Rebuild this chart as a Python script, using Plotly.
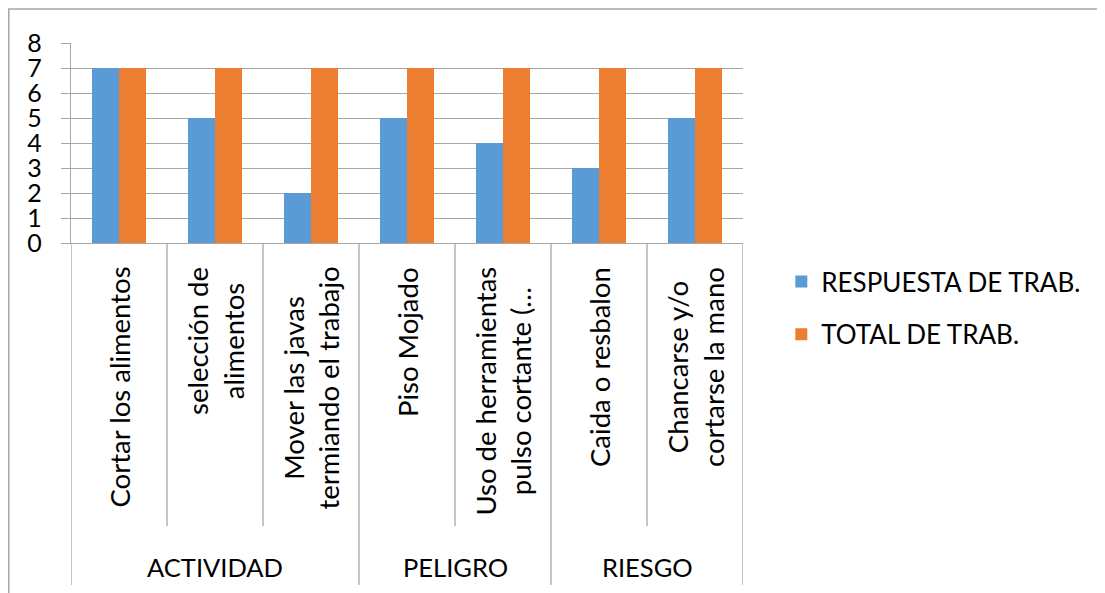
import plotly.graph_objects as go

groups = ["ACTIVIDAD", "ACTIVIDAD", "ACTIVIDAD", "PELIGRO", "PELIGRO", "RIESGO", "RIESGO"]
categories = [
    "Cortar los alimentos",
    "selección de<br>alimentos",
    "Mover las javas<br>termiando el trabajo",
    "Piso Mojado",
    "Uso de herramientas<br>pulso cortante (…",
    "Caida o resbalon",
    "Chancarse y/o<br>cortarse la mano",
]
respuesta = [7, 5, 2, 5, 4, 3, 5]
total = [7, 7, 7, 7, 7, 7, 7]
series_names = ["RESPUESTA DE TRAB.", "TOTAL DE TRAB."]
colors = ["#5B9BD5", "#ED7D31"]

FONT = "Lato"
GRAY = "#a6a6a6"
idx = list(range(len(categories)))

W, H = 1097, 585
L, T, PW, PH = 63, 35, 672, 200

fig = go.Figure()
for i, (name, vals) in enumerate(zip(series_names, [respuesta, total])):
    fig.add_trace(go.Bar(x=idx, y=vals, name=name, marker_color=colors[i],
                         marker_line_width=0, legendgroup=name))

shapes = []
annotations = []
# category labels and dividers
for i, cat in enumerate(categories):
    annotations.append(dict(x=i, y=-0.11, xref="x", yref="paper", text=cat,
                            textangle=-90, showarrow=False, yanchor="top",
                            xanchor="center", align="center",
                            font=dict(family=FONT, size=27.5, color="black")))
boundaries = [0]
for i in range(1, len(groups)):
    if groups[i] != groups[i - 1]:
        boundaries.append(i)
boundaries.append(len(groups))
for i in range(len(categories) + 1):
    long = i in boundaries
    shapes.append(dict(type="line", xref="x", yref="paper", x0=i - 0.5, x1=i - 0.5,
                       y0=0, y1=-1.71 if long else -1.415,
                       line=dict(color=GRAY, width=1.3)))
for a, b in zip(boundaries[:-1], boundaries[1:]):
    annotations.append(dict(x=(a + b - 1) / 2, y=-1.62, xref="x", yref="paper",
                            text=groups[a], showarrow=False, yanchor="middle",
                            font=dict(family=FONT, size=25.5, color="black")))
# outer chart border (only top and left edges are visible in the frame)
shapes.append(dict(type="rect", xref="paper", yref="paper",
                   x0=(0.8 - L) / PW, x1=2.0, y0=-3.0, y1=(T - 1) / PH + 1,
                   line=dict(color=GRAY, width=1.5)))

fig.update_layout(
    width=W, height=H,
    margin=dict(l=L, r=W - L - PW, t=T, b=H - T - PH, autoexpand=False),
    paper_bgcolor="white", plot_bgcolor="white",
    barmode="group", bargap=0.4375, bargroupgap=0,
    font=dict(family=FONT, color="black"),
    xaxis=dict(range=[-0.5, len(categories) - 0.5], showticklabels=False,
               showgrid=False, zeroline=False, showline=True, linecolor=GRAY,
               linewidth=1.3, fixedrange=True),
    yaxis=dict(range=[0, 8], dtick=1, showgrid=True, gridcolor=GRAY, gridwidth=1.3,
               ticks="outside", ticklen=9, tickcolor=GRAY, tickwidth=1.3,
               showline=True, linecolor=GRAY, linewidth=1.3, zeroline=False,
               tickfont=dict(family=FONT, size=25, color="black"),
               ticklabelstandoff=14),
    legend=dict(x=1.057, y=-0.075, xanchor="left", yanchor="top",
                font=dict(family=FONT, size=26, color="black"),
                tracegroupgap=16, bgcolor="rgba(0,0,0,0)"),
    shapes=shapes, annotations=annotations,
    showlegend=True,
)
fig.write_html("out.html")
